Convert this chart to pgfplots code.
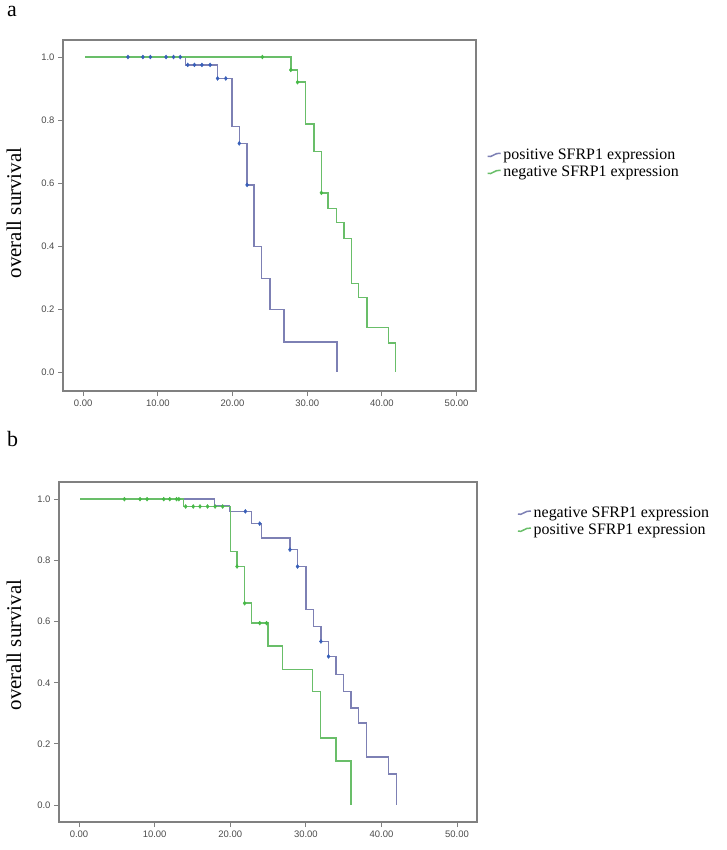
\documentclass[border=0pt]{standalone}
\usepackage{fontspec}
\setmainfont{Liberation Serif}
\setsansfont{Liberation Sans}
\usepackage{pgfplots}
\pgfplotsset{compat=1.18}

\definecolor{kmblue}{RGB}{125,128,180}
\definecolor{kmbluemk}{RGB}{55,95,185}
\definecolor{kmgreen}{RGB}{105,190,105}
\definecolor{kmgreenmk}{RGB}{70,185,70}
\definecolor{framegray}{RGB}{128,128,128}
\definecolor{ticktext}{RGB}{75,75,75}

\pgfplotsset{
  kmaxis/.style={
    scale only axis,
    axis line style={framegray, line width=1.6bp},
    tick align=outside, xtick pos=left, ytick pos=left,
    major tick length=5bp,
    tick style={framegray, line width=1bp},
    xtick={0,10,20,30,40,50},
    xticklabels={0.00,10.00,20.00,30.00,40.00,50.00},
    ytick={0,0.2,0.4,0.6,0.8,1.0},
    yticklabels={0.0,0.2,0.4,0.6,0.8,1.0},
    tick label style={font=\fontsize{9.5}{10}\sffamily, text=ticktext},
    legend cell align=left,
    legend style={draw=none, fill=none, inner sep=0pt, anchor=north west,
      font=\fontsize{16}{18}\selectfont, row sep=1bp},
    legend image code/.code={\draw[#1, line width=1.5bp] (0bp,-1bp) .. controls (4bp,-3bp) and (7bp,3bp) .. (13bp,2bp);},
  },
  kmline/.style={const plot, line width=1.45bp, no marks},
  kmcens/.style={only marks, mark=diamond*, mark size=2bp, forget plot},
}

\begin{document}
\begin{tikzpicture}
\path[use as bounding box] (0bp,0bp) rectangle (727bp,-850bp);

% panel a
\node[anchor=base west, inner sep=0pt, font=\fontsize{22}{22}\selectfont] at (7bp,-16bp) {a};
\node[rotate=90, inner sep=0pt, font=\fontsize{21}{21}\selectfont] at (14bp,-213bp) {overall survival};
\begin{axis}[kmaxis,
    at={(63bp,-40bp)}, anchor=north west,
    width=413bp, height=351bp,
    xmin=-2.7, xmax=52.6, ymin=-0.06, ymax=1.054,
    legend style={at={(1.026,0.695)}},
]
\addplot[kmline, kmblue] coordinates {
  (0.3,1.0)(13.7,0.975)(18.0,0.932)(19.9,0.779)(20.9,0.726)(21.95,0.594)
  (22.9,0.398)(23.9,0.297)(25.0,0.199)(26.9,0.096)(34.0,0.0)};
\addlegendentry{positive SFRP1 expression}
\addplot[kmline, kmgreen] coordinates {
  (0.3,1.0)(27.8,0.959)(28.7,0.92)(29.8,0.787)(30.9,0.70)(31.9,0.569)
  (32.8,0.52)(33.95,0.474)(34.9,0.424)(35.9,0.282)(36.9,0.236)(38.0,0.142)
  (40.9,0.093)(41.85,0.0)};
\addlegendentry{negative SFRP1 expression}
\addplot[kmcens, mark options={draw=kmbluemk, fill=kmbluemk}] coordinates {
  (6.0,1.0)(8.0,1.0)(9.0,1.0)(11.1,1.0)(12.1,1.0)(13.0,1.0)
  (14.0,0.975)(14.9,0.975)(15.9,0.975)(17.0,0.975)
  (18.0,0.932)(19.1,0.932)(20.9,0.726)(21.95,0.594)};
\addplot[kmcens, mark options={draw=kmgreenmk, fill=kmgreenmk}] coordinates {
  (24.0,1.0)(27.8,0.959)(28.7,0.92)(31.9,0.569)};
\end{axis}

% panel b
\node[anchor=base west, inner sep=0pt, font=\fontsize{22}{22}\selectfont] at (7bp,-446bp) {b};
\node[rotate=90, inner sep=0pt, font=\fontsize{21}{21}\selectfont] at (14bp,-645bp) {overall survival};
\begin{axis}[kmaxis,
    at={(59bp,-481.7bp)}, anchor=north west,
    width=417.7bp, height=340.3bp,
    xmin=-2.65, xmax=52.6, ymin=-0.055, ymax=1.057,
    legend style={at={(1.0965,0.932)}},
]
\addplot[kmline, kmblue] coordinates {
  (0.13,1.0)(17.9,0.98)(19.9,0.96)(22.8,0.92)(24.1,0.873)(27.9,0.835)
  (28.9,0.78)(30.0,0.639)(31.0,0.584)(32.0,0.535)(33.0,0.486)(34.0,0.427)
  (35.0,0.372)(36.0,0.318)(36.95,0.269)(38.0,0.158)(40.9,0.102)(42.0,0.0)};
\addlegendentry{negative SFRP1 expression}
\addplot[kmline, kmgreen] coordinates {
  (0.13,1.0)(13.8,0.976)(20.0,0.829)(20.9,0.78)(21.9,0.66)(22.8,0.595)
  (25.0,0.52)(26.9,0.443)(30.9,0.372)(31.95,0.22)(34.0,0.144)(36.0,0.0)};
\addlegendentry{positive SFRP1 expression}
\addplot[kmcens, mark options={draw=kmbluemk, fill=kmbluemk}] coordinates {
  (22.0,0.96)(23.9,0.92)(27.9,0.835)(28.9,0.78)(32.0,0.535)(33.0,0.486)};
\addplot[kmcens, mark options={draw=kmgreenmk, fill=kmgreenmk}] coordinates {
  (6.0,1.0)(8.07,1.0)(9.0,1.0)(11.2,1.0)(12.0,1.0)(12.9,1.0)(13.2,1.0)
  (14.1,0.976)(15.1,0.976)(16.0,0.976)(17.0,0.976)(18.0,0.976)(19.0,0.976)
  (20.9,0.78)(21.9,0.66)(23.9,0.595)(24.8,0.595)};
\end{axis}
\end{tikzpicture}
\end{document}
